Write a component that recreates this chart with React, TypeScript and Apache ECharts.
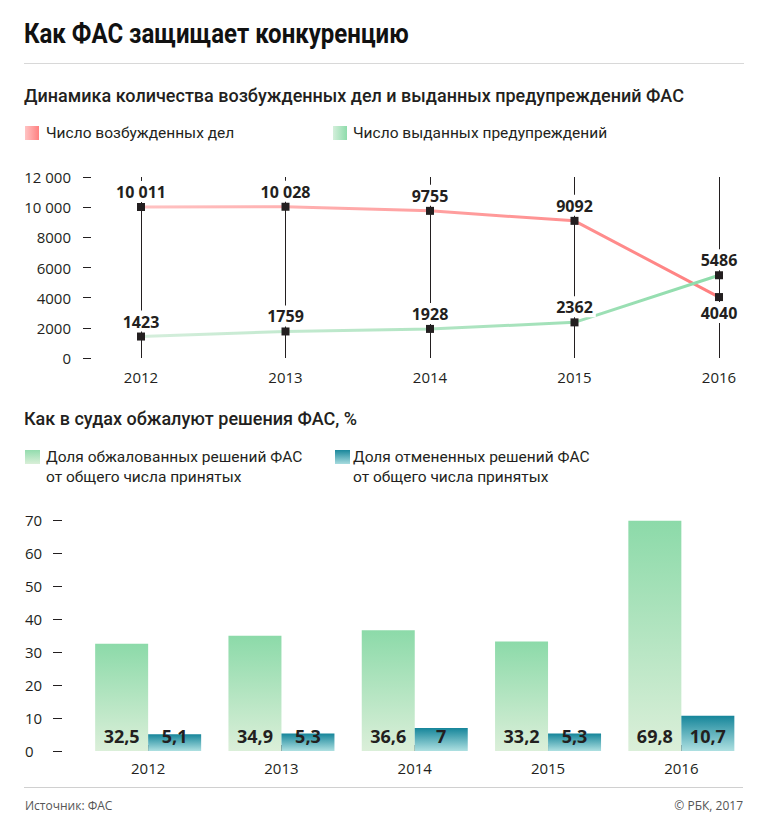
import React, { useEffect, useRef } from "react";
import * as echarts from "echarts";

const years = ["2012", "2013", "2014", "2015", "2016"];
const cases = [10011, 10028, 9755, 9092, 4040];
const warnings = [1423, 1759, 1928, 2362, 5486];
const appealed = [32.5, 34.9, 36.6, 33.2, 69.8];
const cancelled = [5.1, 5.3, 7, 5.3, 10.7];

const TITLE = "Как ФАС защищает конкуренцию";
const SUB1 = "Динамика количества возбужденных дел и выданных предупреждений ФАС";
const SUB2 = "Как в судах обжалуют решения ФАС, %";
const LEG1 = ["Число возбужденных дел", "Число выданных предупреждений"];
const LEG2 = [
  "Доля обжалованных решений ФАС\nот общего числа принятых",
  "Доля отмененных решений ФАС\nот общего числа принятых",
];
const SOURCE = "Источник: ФАС";
const COPY = "© РБК, 2017";

const INK = "#231f20";
const HEAD = "Roboto, 'Noto Sans', sans-serif";
const NUM = "'Open Sans', 'Noto Sans', sans-serif";

const fmtThousands = (v: number) =>
  v >= 10000 ? String(v).replace(/\B(?=(\d{3})+(?!\d))/g, " ") : String(v);
const fmtComma = (v: number) => String(v).replace(".", ",");

export default function App() {
  const ref = useRef<HTMLDivElement>(null);
  useEffect(() => {
    document.body.style.margin = "0";
    const chart = echarts.init(ref.current!, null, { renderer: "svg" });
    const lg = (x0: string, x1: string) => ({
      type: "linear", x: 0, y: 0, x2: 1, y2: 0,
      colorStops: [{ offset: 0, color: x0 }, { offset: 1, color: x1 }],
    });
    const vg = (top: string, bottom: string) => ({
      type: "linear", x: 0, y: 0, x2: 0, y2: 1,
      colorStops: [{ offset: 0, color: top }, { offset: 1, color: bottom }],
    });
    const lineLabel = {
      show: true,
      position: "top",
      distance: 1,
      color: INK,
      fontFamily: NUM,
      fontWeight: "bold",
      fontSize: 16,
      backgroundColor: "#fff",
      padding: [3, 3, 2, 3],
      formatter: (p: any) => fmtThousands(p.value),
    };
    const barLabel = {
      show: true,
      position: "insideBottom",
      distance: 6,
      color: INK,
      fontFamily: NUM,
      fontWeight: "bold",
      fontSize: 18,
      formatter: (p: any) => fmtComma(p.value),
    };
    chart.setOption({
      animation: false,
      textStyle: { fontFamily: NUM },
      grid: [
        { left: 141, right: 49, top: 177, bottom: 465 },
        { left: 81.5, right: 20, top: 520, bottom: 72 },
      ],
      xAxis: [
        {
          gridIndex: 0,
          type: "category",
          data: years,
          boundaryGap: false,
          axisLine: { show: false },
          axisTick: { show: false },
          axisLabel: { color: INK, fontSize: 15, margin: 11, fontFamily: NUM },
          splitLine: { show: true, lineStyle: { color: INK, width: 1 } },
        },
        {
          gridIndex: 1,
          type: "category",
          data: years,
          axisLine: { show: false },
          axisTick: {
            show: true,
            alignWithLabel: true,
            inside: true,
            length: 6,
            lineStyle: { color: INK, width: 7 },
          },
          axisLabel: { color: INK, fontSize: 15, margin: 9, fontFamily: NUM },
        },
      ],
      yAxis: [
        {
          gridIndex: 0,
          type: "value",
          min: 0,
          max: 12000,
          interval: 2000,
          offset: 50,
          axisLine: { show: false },
          axisTick: { show: true, length: 8, lineStyle: { color: INK } },
          axisLabel: {
            color: INK,
            fontSize: 15,
            margin: 20,
            fontFamily: NUM,
            formatter: (v: number) => fmtThousands(v),
          },
          splitLine: { show: false },
        },
        {
          gridIndex: 1,
          type: "value",
          min: 0,
          max: 70,
          interval: 10,
          offset: 19.5,
          axisLine: { show: false },
          axisTick: { show: true, length: 9, lineStyle: { color: INK } },
          axisLabel: { color: INK, fontSize: 15, margin: 37, align: "left", fontFamily: NUM },
          splitLine: { show: false },
        },
      ],
      series: [
        {
          name: LEG1[0],
          type: "line",
          xAxisIndex: 0,
          yAxisIndex: 0,
          data: cases.map((v, i) =>
            i === cases.length - 1 ? { value: v, label: { position: "bottom" } } : v
          ),
          symbol: "rect",
          symbolSize: 8,
          itemStyle: { color: INK },
          lineStyle: { width: 3, color: lg("#ffc2c2", "#ff7f7f") },
          label: lineLabel,
          z: 3,
        },
        {
          name: LEG1[1],
          type: "line",
          xAxisIndex: 0,
          yAxisIndex: 0,
          data: warnings,
          symbol: "rect",
          symbolSize: 8,
          itemStyle: { color: INK },
          lineStyle: { width: 3, color: lg("#d5eedc", "#8edcab") },
          label: lineLabel,
          z: 4,
        },
        {
          name: "Доля обжалованных",
          type: "bar",
          xAxisIndex: 1,
          yAxisIndex: 1,
          data: appealed,
          barWidth: 53,
          barGap: "0%",
          itemStyle: { color: vg("#8cdaa9", "#dbefd9") },
          label: barLabel,
        },
        {
          name: "Доля отмененных",
          type: "bar",
          xAxisIndex: 1,
          yAxisIndex: 1,
          data: cancelled,
          barWidth: 53,
          barGap: "0%",
          itemStyle: { color: vg("#15859a", "#aee0e1") },
          label: barLabel,
        },
      ],
      graphic: [
        {
          type: "text", x: 24, y: 33, scaleX: 0.89,
          style: { text: TITLE, font: `bold 27px ${HEAD}`, fill: "#111", textVerticalAlign: "middle" },
        },
        { type: "line", shape: { x1: 24, y1: 63.5, x2: 744, y2: 63.5 }, style: { stroke: "#d8d8d8", lineWidth: 1 } },
        {
          type: "text", x: 24, y: 95,
          style: { text: SUB1, font: `500 18px ${HEAD}`, fill: INK, textVerticalAlign: "middle" },
        },
        { type: "rect", shape: { x: 25, y: 126, width: 14, height: 14 }, style: { fill: lg("#ffc4c4", "#ff8080") } },
        { type: "text", x: 46, y: 133, style: { text: LEG1[0], font: `15.5px ${HEAD}`, fill: INK, textVerticalAlign: "middle" } },
        { type: "rect", shape: { x: 333, y: 126, width: 14, height: 14 }, style: { fill: lg("#d4efdb", "#8edcab") } },
        { type: "text", x: 353, y: 133, style: { text: LEG1[1], font: `15.5px ${HEAD}`, fill: INK, textVerticalAlign: "middle" } },
        {
          type: "text", x: 24, y: 418,
          style: { text: SUB2, font: `500 18px ${HEAD}`, fill: INK, textVerticalAlign: "middle" },
        },
        { type: "rect", shape: { x: 25, y: 450, width: 15, height: 14 }, style: { fill: vg("#93dcae", "#d9efd8") } },
        { type: "text", left: 46, top: 447, style: { text: LEG2[0], font: `15.5px ${HEAD}`, fill: INK, lineHeight: 20 } },
        { type: "rect", shape: { x: 335, y: 450, width: 15, height: 14 }, style: { fill: vg("#1a879b", "#a8dcdf") } },
        { type: "text", left: 353, top: 447, style: { text: LEG2[1], font: `15.5px ${HEAD}`, fill: INK, lineHeight: 20 } },
        { type: "line", shape: { x1: 24, y1: 787.5, x2: 743, y2: 787.5 }, style: { stroke: "#d0d0d0", lineWidth: 1 } },
        { type: "text", x: 25, y: 805, style: { text: SOURCE, font: `12px ${NUM}`, fill: "#555", textVerticalAlign: "middle" } },
        { type: "text", x: 743, y: 805, style: { text: COPY, font: `12px ${NUM}`, fill: "#555", textAlign: "right", textVerticalAlign: "middle" } },
      ],
    });
    return () => chart.dispose();
  }, []);
  return <div ref={ref} style={{ width: 768, height: 823 }} />;
}
